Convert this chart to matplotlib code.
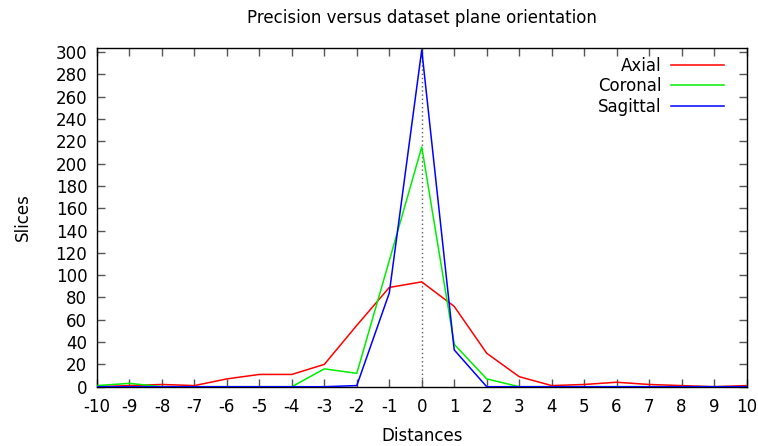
import matplotlib
matplotlib.use('Agg')
import matplotlib.pyplot as plt

distances = list(range(-10, 11))
axial    = [0, 1, 2, 1, 7, 11, 11, 20, 55, 89, 94, 72, 30, 9, 1, 2, 4, 2, 1, 0, 1]
coronal  = [1, 3, 0, 0, 0, 0, 0, 16, 12, 113, 215, 38, 7, 0, 0, 0, 0, 0, 0, 0, 0]
sagittal = [0, 0, 0, 0, 0, 0, 0, 0, 1, 84, 302, 33, 0, 0, 0, 0, 0, 0, 0, 0, 0]

plt.rcParams['font.family'] = 'DejaVu Sans'
plt.rcParams['axes.unicode_minus'] = False
fig = plt.figure(figsize=(7.58, 4.46), dpi=100)
ax = fig.add_axes([97 / 758, 1 - 386.7 / 446, (746.5 - 97) / 758, (386.7 - 47.7) / 446])

ax.axvline(0, color='#606060', lw=1.0, ls=(0, (1, 2)), zorder=1)
ax.plot(distances, axial, color='#ff0000', lw=1.1, label='Axial', zorder=3)
ax.plot(distances, coronal, color='#00ee00', lw=1.1, label='Coronal', zorder=3)
ax.plot(distances, sagittal, color='#0000ff', lw=1.1, label='Sagittal', zorder=3)

ax.set_xlim(-10, 10)
ax.set_ylim(0, 304)
ax.set_xticks(distances)
ax.set_yticks(range(0, 301, 20))
ax.tick_params(direction='in', length=6, width=1, color='#555555',
               top=True, right=True, labelsize=12)
ax.tick_params(axis='x', pad=8)
ax.tick_params(axis='y', pad=7)
for s in ax.spines.values():
    s.set_linewidth(1.0)

ax.set_xlabel('Distances', fontsize=12, labelpad=8)
ax.set_ylabel('Slices', fontsize=12, labelpad=17)
ax.set_title('Precision versus dataset plane orientation', fontsize=12, pad=18)

leg = ax.legend(loc='upper right', bbox_to_anchor=(1.0, 1.04), frameon=False,
                markerfirst=False, fontsize=12, handlelength=3.2,
                handletextpad=0.55, labelspacing=0.16, borderaxespad=0.95)
for t in leg.get_texts():
    t.set_ha('right')

fig.savefig('out.png', dpi=100)
